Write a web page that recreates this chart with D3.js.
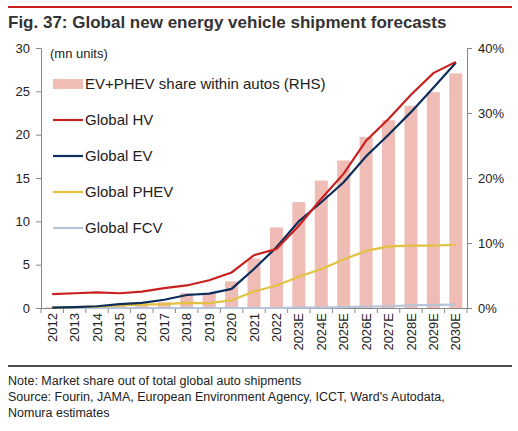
<!DOCTYPE html>
<html><head><meta charset="utf-8">
<script src="https://cdn.jsdelivr.net/npm/d3@7"></script>
<style>body{margin:0;background:#fff}text{font-family:Arial,"Liberation Sans",sans-serif}</style>
</head><body>
<script>
var years = ["2012","2013","2014","2015","2016","2017","2018","2019","2020","2021","2022","2023E","2024E","2025E","2026E","2027E","2028E","2029E","2030E"]
var share = [0.1,0.1,0.2,0.4,0.6,0.9,2.3,2.3,4.1,7.6,12.4,16.3,19.6,22.7,26.3,28.9,31.1,33.2,36.1]
var hv = [1.6,1.7,1.8,1.7,1.9,2.3,2.6,3.2,4.1,6.1,6.8,9.5,12.6,15.5,19.3,21.8,24.6,27.1,28.4]
var ev = [0.05,0.1,0.2,0.45,0.6,0.95,1.5,1.65,2.2,4.5,7,10,12.2,14.5,17.5,20,22.6,25.4,28.3]
var phev = [0.05,0.1,0.15,0.3,0.4,0.45,0.6,0.55,0.9,1.9,2.6,3.6,4.5,5.6,6.6,7.1,7.2,7.2,7.3]
var fcv = [0,0,0,0,0,0,0,0,0,0,0,0.05,0.05,0.1,0.15,0.2,0.3,0.35,0.4]
var leftTicks = [0,5,10,15,20,25,30]
var rightTicks = [0,10,20,30,40]

var w = 518, h = 431
var svg = d3.select("body").append("svg").attr("width", w).attr("height", h)

svg.append("line").attr("x1",8).attr("x2",512).attr("y1",7).attr("y2",7).attr("stroke","#c8211f").attr("stroke-width",2)
svg.append("text").attr("x",8).attr("y",28).attr("font-size",17).attr("font-weight","bold").attr("fill","#333")
   .text("Fig. 37: Global new energy vehicle shipment forecasts")

var x = d3.scaleBand().domain(years).range([41,467]).paddingInner(0.42).paddingOuter(0.21)
var xp = function(d){ return x(d) + x.bandwidth()/2 }
var y = d3.scaleLinear().domain([0,30]).range([308,48])
var yr = d3.scaleLinear().domain([0,40]).range([308,48])

svg.selectAll(".bar").data(share).enter().append("rect")
   .attr("x", function(d,i){ return x(years[i]) }).attr("width", x.bandwidth())
   .attr("y", function(d){ return yr(d) }).attr("height", function(d){ return 308 - yr(d) })
   .attr("fill","#efbcb6")

var axL = svg.append("g").attr("transform","translate(41,0)").call(d3.axisLeft(y).tickValues(leftTicks).tickSize(5).tickPadding(6))
var axR = svg.append("g").attr("transform","translate(467,0)").call(d3.axisRight(yr).tickValues(rightTicks).tickSize(5).tickPadding(6).tickFormat(function(d){return d+"%"}))
var axB = svg.append("g").attr("transform","translate(0,308)").call(d3.axisBottom(x).tickSize(0).tickPadding(0))
;[axL,axR,axB].forEach(function(a){
  a.selectAll("path,line").attr("stroke","#888")
  a.selectAll("text").attr("font-size",13).attr("fill","#222").attr("font-family","Arial, Liberation Sans, sans-serif")
})
axB.selectAll("text").attr("transform","rotate(-90)").attr("text-anchor","end").attr("x",-5).attr("y",0).attr("dy","0.35em")
// category boundary ticks
axB.selectAll(".bt").data(d3.range(years.length+1)).enter().append("line")
   .attr("x1", function(i){ return 41 + i*(426/years.length) }).attr("x2", function(i){ return 41 + i*(426/years.length) })
   .attr("y1",0).attr("y2",5).attr("stroke","#888")

var line = d3.line().x(function(d,i){ return xp(years[i]) }).y(function(d){ return y(d) })
var series = [[fcv,"#b7c3d6"],[phev,"#e2c13f"],[ev,"#0d2e5a"],[hv,"#c8211f"]]
series.forEach(function(s){
  svg.append("path").datum(s[0]).attr("d",line).attr("fill","none").attr("stroke",s[1]).attr("stroke-width",2.2)
})

svg.append("text").attr("x",50).attr("y",58).attr("font-size",13).attr("fill","#222").text("(mn units)")
var leg = [["EV+PHEV share within autos (RHS)","#efbcb6",true],["Global HV","#c8211f"],["Global EV","#0d2e5a"],["Global PHEV","#e2c13f"],["Global FCV","#b7c3d6"]]
leg.forEach(function(l,i){
  var ly = 84 + i*36
  if (l[2]) svg.append("rect").attr("x",53).attr("y",ly-5).attr("width",30).attr("height",10).attr("fill",l[1])
  else svg.append("line").attr("x1",53).attr("x2",83).attr("y1",ly).attr("y2",ly).attr("stroke",l[1]).attr("stroke-width",2.2)
  svg.append("text").attr("x",85).attr("y",ly+5).attr("font-size",15).attr("fill","#222").text(l[0])
})

svg.append("line").attr("x1",8).attr("x2",512).attr("y1",366).attr("y2",366).attr("stroke","#111").attr("stroke-width",1.5)
var notes = ["Note: Market share out of total global auto shipments","Source: Fourin, JAMA, European Environment Agency, ICCT, Ward's Autodata,","Nomura estimates"]
notes.forEach(function(n,i){
  svg.append("text").attr("x",8).attr("y",385+i*16).attr("font-size",12.5).attr("fill","#222").text(n)
})
</script>
</body></html>
